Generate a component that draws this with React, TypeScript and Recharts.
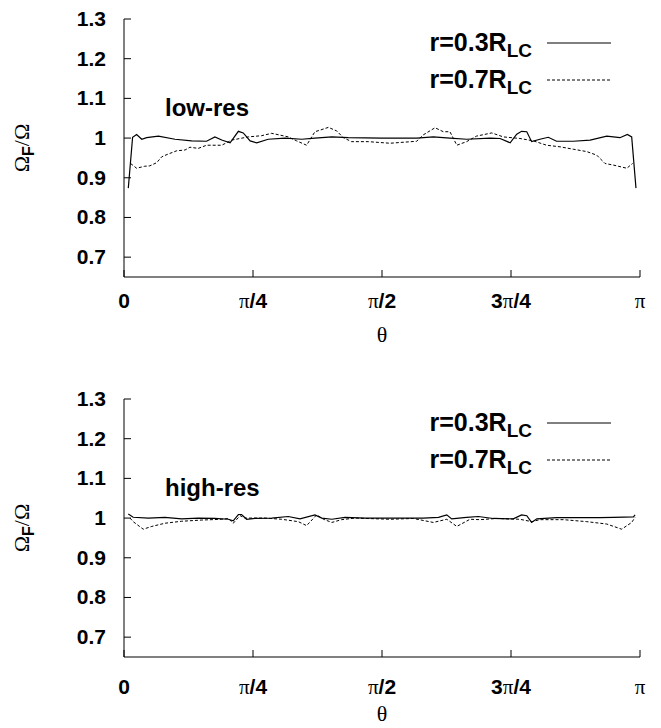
import React from 'react';
import { LineChart, Line, XAxis, YAxis, Legend, Customized } from 'recharts';

const SANS = '"Liberation Sans", Arial, Helvetica, sans-serif';
const SERIF = '"Liberation Serif", "Times New Roman", serif';

// theta in degrees (0..180 maps to 0..pi)
const thetaTicks = [0, 45, 90, 135, 180];
const omegaTicks = [0.7, 0.8, 0.9, 1.0, 1.1, 1.2, 1.3];
const seriesNames = ['0.3', '0.7'];

// low-res, r = 0.3 R_LC
const lowThetaA = [1.5, 3.0, 4.4, 6.2, 7.9, 12.0, 17.8, 23.6, 28.8, 31.7, 34.1, 37.0, 39.9, 41.6, 44.0, 46.3, 50.3, 56.2, 62.0, 66.6, 72.5, 78.2, 90, 102.1, 107.9, 113.7, 119.5, 127.7, 131.2, 134.7, 137.0, 138.7, 140.5, 142.2, 145.1, 148.0, 150.9, 156.7, 162.6, 168.4, 173.0, 175.6, 177.1, 178.6];
const lowValsA = [0.874, 1.002, 1.009, 0.997, 1.001, 1.005, 0.997, 0.993, 0.992, 1.003, 0.995, 0.988, 1.017, 1.013, 0.993, 0.988, 0.997, 1.0, 0.997, 1.0, 1.003, 1.001, 1.0, 1.0, 1.003, 1.0, 0.997, 1.0, 0.999, 0.988, 1.010, 1.017, 1.016, 0.991, 0.997, 1.002, 0.992, 0.992, 0.995, 1.005, 1.001, 1.009, 1.003, 0.874];

// low-res, r = 0.7 R_LC
const lowThetaB = [2.3, 4.4, 7.2, 9.0, 11.4, 13.2, 15.5, 18.4, 21.3, 23.0, 25.9, 28.8, 34.1, 37.6, 43.4, 48.0, 51.5, 57.3, 60.2, 63.7, 66.6, 68.4, 71.3, 74.2, 76.5, 79.4, 85.2, 92.8, 102.1, 104.4, 108.5, 111.4, 113.7, 116.1, 119.5, 123.0, 128.3, 132.3, 138.1, 142.8, 147.4, 152.1, 156.7, 161.4, 164.9, 167.8, 170.7, 175.4, 177.4];
const lowValsB = [0.936, 0.924, 0.929, 0.930, 0.938, 0.953, 0.960, 0.968, 0.970, 0.977, 0.974, 0.982, 0.982, 0.995, 1.003, 1.006, 1.012, 1.003, 0.993, 0.982, 1.016, 1.020, 1.027, 1.018, 1.001, 0.991, 0.991, 0.987, 0.992, 1.008, 1.026, 1.016, 1.016, 0.982, 0.991, 1.005, 1.013, 1.003, 0.999, 0.993, 0.982, 0.978, 0.972, 0.966, 0.957, 0.936, 0.932, 0.924, 0.936];

// high-res, r = 0.3 R_LC
const highThetaA = [1.5, 3.2, 8.5, 14.3, 20.1, 25.9, 31.7, 36.4, 38.1, 39.9, 41.0, 42.8, 45.7, 51.5, 57.3, 61.4, 66.6, 69.0, 72.5, 77.1, 84.1, 92.8, 104.4, 109.7, 112.6, 114.3, 119.5, 123.6, 128.8, 135.8, 138.7, 140.5, 142.2, 144.0, 150.9, 159.1, 166.0, 170.7, 177.7, 178.3];
const highValsA = [1.010, 1.002, 1.0, 1.002, 0.998, 1.0, 0.999, 0.997, 0.993, 1.009, 1.009, 0.997, 0.999, 1.0, 1.004, 0.998, 1.008, 1.0, 0.997, 1.002, 1.0, 1.0, 1.0, 1.002, 1.008, 0.998, 1.002, 1.004, 0.999, 0.998, 1.008, 1.006, 0.989, 0.998, 1.001, 1.001, 1.001, 1.002, 1.003, 1.008];

// high-res, r = 0.7 R_LC
const highThetaB = [2.1, 3.2, 6.7, 9.7, 14.3, 20.1, 27.1, 34.1, 36.4, 38.1, 40.5, 42.2, 49.2, 55.0, 60.8, 63.7, 67.2, 69.6, 72.5, 75.9, 80.6, 92.8, 100.9, 107.9, 112.6, 116.1, 120.7, 124.2, 130.0, 138.1, 142.2, 145.1, 153.3, 161.4, 168.4, 173.6, 177.1, 178.3];
const highValsB = [1.0, 0.991, 0.972, 0.979, 0.987, 0.992, 0.995, 0.997, 0.999, 0.987, 1.006, 1.0, 1.0, 0.997, 0.991, 0.981, 1.008, 0.997, 0.989, 0.996, 1.0, 0.997, 0.999, 0.989, 0.997, 0.979, 0.997, 0.996, 0.999, 0.997, 0.991, 0.996, 0.996, 0.991, 0.985, 0.972, 0.989, 1.002];

const zip = (xs: number[], ys: number[]) => xs.map((t, i) => ({ theta: t, omega: ys[i] }));

const TICK_LEN = 7;

const piLabel = (v: number) => {
  const b = { fontFamily: SANS, fontWeight: 'bold' as const };
  const s = { fontFamily: SERIF, fontWeight: 'normal' as const };
  if (v === 0) return <tspan {...b}>0</tspan>;
  if (v === 45) return [<tspan key="a" {...s}>π</tspan>, <tspan key="b" {...b}>/4</tspan>];
  if (v === 90) return [<tspan key="a" {...s}>π</tspan>, <tspan key="b" {...b}>/2</tspan>];
  if (v === 135) return [<tspan key="c" {...b}>3</tspan>, <tspan key="a" {...s}>π</tspan>, <tspan key="b" {...b}>/4</tspan>];
  return <tspan {...s}>π</tspan>;
};

const makeBottomTick = (labelDy: number) => (props: any) => {
  const { x, y, payload } = props;
  return (
    <g>
      <line x1={x} y1={y} x2={x} y2={y - TICK_LEN} stroke="#000" />
      <text x={x} y={y + labelDy} textAnchor="middle" fontSize={21} fill="#000">
        {piLabel(payload.value)}
      </text>
    </g>
  );
};

const TopTick = (props: any) => {
  const { x, y } = props;
  return <line x1={x} y1={y} x2={x} y2={y + TICK_LEN} stroke="#000" />;
};

const LeftTick = (props: any) => {
  const { x, y, payload } = props;
  const v = payload.value;
  const txt = Math.abs(v - 1) < 1e-9 ? '1' : v.toFixed(1);
  return (
    <g>
      <line x1={x} y1={y} x2={x + TICK_LEN} y2={y} stroke="#000" />
      <text x={x - 18} y={y + 7} textAnchor="end" fontSize={21} fontFamily={SANS} fontWeight="bold" fill="#000">
        {txt}
      </text>
    </g>
  );
};

const RightTick = (props: any) => {
  const { x, y } = props;
  return <line x1={x} y1={y} x2={x - TICK_LEN} y2={y} stroke="#000" />;
};

const LegendBox = (props: any) => {
  const { payload } = props;
  return (
    <svg width={240} height={84} style={{ overflow: 'visible' }}>
      {(payload || []).map((entry: any, i: number) => {
        const y = 18 + i * 37;
        return (
          <g key={i}>
            <text x={132} y={y + 8} textAnchor="end" fontFamily={SANS} fontWeight="bold" fontSize={25} fill="#000">
              {`r=${entry.value}R`}
              <tspan fontSize={19} dy={6}>LC</tspan>
            </text>
            <line
              x1={147}
              x2={211}
              y1={y}
              y2={y}
              stroke="#000"
              strokeWidth={1}
              strokeDasharray={i === 1 ? '3 2' : undefined}
            />
          </g>
        );
      })}
    </svg>
  );
};

interface PanelProps {
  tag: string;
  dataA: { theta: number; omega: number }[];
  dataB: { theta: number; omega: number }[];
  top: number;
  bottom: number;
  legendTop: number;
  tagY: number;
  tickDy: number;
  thetaDy: number;
}

const Panel = ({ tag, dataA, dataB, top, bottom, legendTop, tagY, tickDy, thetaDy }: PanelProps) => {
  const plotTop = top;
  const plotBottom = 364 - bottom;
  const midY = (plotTop + plotBottom) / 2;
  return (
    <LineChart width={661} height={364} margin={{ top, right: 21, left: 0, bottom: 0 }}>
      <XAxis
        dataKey="theta"
        type="number"
        domain={[0, 180]}
        ticks={thetaTicks}
        height={bottom}
        tickSize={0}
        tickMargin={0}
        stroke="#000"
        tick={makeBottomTick(tickDy)}
        allowDataOverflow
        label={{
          content: () => (
            <text x={382} y={plotBottom + thetaDy} textAnchor="middle" fontFamily={SERIF} fontSize={22} fill="#000">
              θ
            </text>
          ),
        }}
      />
      <XAxis
        xAxisId="top"
        orientation="top"
        dataKey="theta"
        type="number"
        domain={[0, 180]}
        ticks={thetaTicks}
        height={0}
        tickSize={0}
        tickMargin={0}
        stroke="#000"
        tick={TopTick}
      />
      <YAxis
        type="number"
        domain={[0.65, 1.3]}
        ticks={omegaTicks}
        width={124}
        tickSize={0}
        tickMargin={0}
        stroke="#000"
        tick={LeftTick}
        allowDataOverflow
        label={{
          content: () => (
            <text
              x={midY}
              y={29}
              transform={`rotate(-90) translate(${-2 * midY}, 0)`}
              textAnchor="middle"
              fontSize={22}
              fill="#000"
            >
              <tspan fontFamily={SERIF}>Ω</tspan>
              <tspan fontFamily={SANS} fontWeight="bold" fontSize={16} dy={5}>F</tspan>
              <tspan fontFamily={SERIF} dy={-5}>/Ω</tspan>
            </text>
          ),
        }}
      />
      <YAxis
        yAxisId="right"
        orientation="right"
        type="number"
        domain={[0.65, 1.3]}
        ticks={omegaTicks}
        width={0}
        tickSize={0}
        tickMargin={0}
        stroke="#000"
        tick={RightTick}
      />
      <Legend
        layout="vertical"
        align="center"
        verticalAlign="middle"
        content={LegendBox}
        wrapperStyle={{ left: 400, top: legendTop, width: 240, height: 84 }}
      />
      <Customized
        component={() => (
          <text x={165} y={tagY} fontFamily={SANS} fontWeight="bold" fontSize={24} fill="#000">
            {tag}
          </text>
        )}
      />
      <Line
        data={dataA}
        dataKey="omega"
        name={seriesNames[0]}
        type="linear"
        stroke="#000"
        strokeWidth={1.2}
        dot={false}
        isAnimationActive={false}
      />
      <Line
        data={dataB}
        dataKey="omega"
        name={seriesNames[1]}
        type="linear"
        stroke="#000"
        strokeWidth={1}
        strokeDasharray="3 2"
        dot={false}
        isAnimationActive={false}
      />
    </LineChart>
  );
};

export default function App() {
  return (
    <div style={{ position: 'absolute', left: 0, top: 0, width: 661, height: 728, background: '#fff' }}>
      <Panel
        tag="low-res"
        dataA={zip(lowThetaA, lowValsA)}
        dataB={zip(lowThetaB, lowValsB)}
        top={19}
        bottom={87}
        legendTop={25}
        tagY={116}
        tickDy={31}
        thetaDy={65}
      />
      <Panel
        tag="high-res"
        dataA={zip(highThetaA, highValsA)}
        dataB={zip(highThetaB, highValsB)}
        top={35}
        bottom={71}
        legendTop={41}
        tagY={132}
        tickDy={37}
        thetaDy={64}
      />
    </div>
  );
}
